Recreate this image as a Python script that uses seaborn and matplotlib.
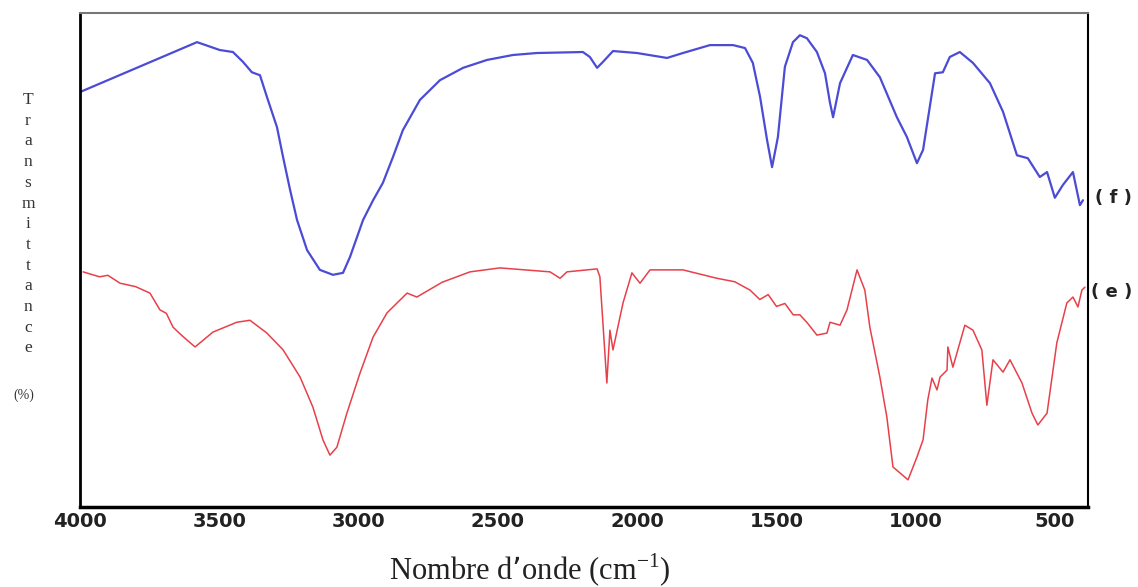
import numpy as np
import pandas as pd
import matplotlib
matplotlib.use("Agg")
import matplotlib.pyplot as plt
import seaborn as sns

##################################################################################################
# IR spectra (wavenumber in cm-1, transmittance in arbitrary %)
wn_f = [4000, 3580, 3498, 3451, 3415, 3383, 3354, 3329, 3293, 3271, 3246, 3221, 3185, 3139,
        3092, 3056, 3031, 2984, 2948, 2913, 2877, 2841, 2780, 2708, 2625, 2539, 2446, 2360,
        2195, 2170, 2144, 2123, 2087, 2001, 1893, 1836, 1739, 1656, 1613, 1585, 1559, 1534,
        1516, 1495, 1470, 1441, 1416, 1391, 1355, 1326, 1308, 1297, 1272, 1226, 1175, 1129,
        1068, 1032, 996, 974, 931, 903, 878, 842, 795, 734, 687, 637, 598, 555, 529, 501,
        472, 436, 411, 400]
t_f = [84.0, 94.1, 92.5, 92.1, 90.1, 88.0, 87.4, 83.0, 76.9, 70.8, 64.2, 58.1, 52.0, 48.0,
       47.0, 47.4, 50.6, 58.1, 62.1, 65.6, 70.8, 76.3, 82.4, 86.4, 88.9, 90.5, 91.5, 91.9,
       92.1, 91.1, 88.9, 90.1, 92.3, 91.9, 90.9, 91.9, 93.5, 93.5, 92.9, 89.9, 83.0, 74.3,
       68.8, 74.9, 89.1, 94.1, 95.5, 94.9, 92.1, 87.8, 81.8, 78.9, 85.8, 91.5, 90.5, 87.0,
       78.9, 74.9, 69.6, 72.3, 87.8, 88.0, 91.1, 92.1, 89.9, 85.8, 80.0, 71.2, 70.6, 66.8,
       67.8, 62.6, 65.2, 67.8, 61.1, 62.1]

wn_e = [3989, 3930, 3900, 3856, 3800, 3749, 3713, 3690, 3666, 3640, 3616, 3587, 3523, 3437,
        3390, 3329, 3271, 3210, 3164, 3128, 3103, 3078, 3042, 2995, 2948, 2898, 2826, 2791,
        2700, 2600, 2493, 2313, 2277, 2252, 2144, 2134, 2109, 2098, 2087, 2051, 2019, 1990,
        1954, 1836, 1714, 1650, 1595, 1560, 1530, 1500, 1470, 1440, 1416, 1390, 1355, 1319,
        1308, 1272, 1247, 1211, 1183, 1165, 1129, 1104, 1082, 1057, 1028, 996, 974, 957, 942,
        924, 913, 888, 885, 867, 824, 795, 763, 745, 723, 687, 662, 619, 583, 562, 529, 494,
        458, 436, 418, 404, 393]
t_e = [47.6, 46.6, 46.9, 45.3, 44.6, 43.3, 39.9, 39.2, 36.4, 35.0, 33.8, 32.4, 35.4, 37.4,
       37.8, 35.2, 31.8, 26.3, 20.2, 13.6, 10.5, 12.1, 19.0, 27.1, 34.4, 39.3, 43.3, 42.5,
       45.5, 47.6, 48.4, 47.6, 46.3, 47.6, 48.2, 46.6, 25.1, 35.8, 31.8, 41.3, 47.4, 45.3,
       48.0, 48.0, 46.3, 45.6, 43.9, 42.0, 43.0, 40.6, 41.2, 38.9, 38.9, 37.3, 34.8, 35.2,
       37.4, 36.8, 39.9, 48.0, 43.9, 36.4, 26.3, 18.2, 8.1, 6.9, 5.5, 10.1, 13.6, 21.7, 26.1,
       23.7, 26.3, 27.7, 32.4, 28.3, 36.8, 35.8, 31.8, 20.6, 29.8, 27.3, 29.8, 25.1, 19.0,
       16.6, 19.0, 33.2, 41.3, 42.5, 40.5, 43.9, 44.5]

tick_vals = [4000, 3500, 3000, 2500, 2000, 1500, 1000, 500]
ylab_letters = list("Transmittance")

df = pd.concat([
    pd.DataFrame({"wn": wn_f, "T": t_f, "sample": "f"}),
    pd.DataFrame({"wn": wn_e, "T": t_e, "sample": "e"}),
], ignore_index=True)

##################################################################################################
sns.set_style("white")
plt.rcParams['font.family'] = ['DejaVu Sans']

fig = plt.figure(figsize=(11.38, 5.87), dpi=100)
ax = fig.add_axes([80 / 1138, 80 / 587, 1008 / 1138, 494 / 587])

sns.lineplot(data=df[df["sample"] == "f"], x="wn", y="T", sort=False, color="#4b4bd6",
             linewidth=1.6, ax=ax, solid_joinstyle="round")
sns.lineplot(data=df[df["sample"] == "e"], x="wn", y="T", sort=False, color="#e8404a",
             linewidth=1.1, ax=ax, solid_joinstyle="round")

ax.set_xlim(4000, 382)
ax.set_ylim(0, 100)
ax.set_xlabel("")
ax.set_ylabel("")
ax.set_yticks([])
ax.set_xticks(tick_vals)
ax.set_xticklabels([str(v) for v in tick_vals], fontweight="bold", fontsize=14)
ax.set_xticks([3750, 3250, 2750, 2250, 1750, 1250, 750], minor=True)
ax.tick_params(axis="x", which="major", direction="inout", length=5, width=1.5, pad=1,
               colors="black", labelcolor="#222222")
ax.tick_params(axis="x", which="minor", direction="inout", length=3, width=1.5)

ax.spines["top"].set_color("#777777")
ax.spines["top"].set_linewidth(1.5)
ax.spines["left"].set_color("black")
ax.spines["left"].set_linewidth(2)
ax.spines["bottom"].set_color("black")
ax.spines["bottom"].set_linewidth(2.5)
ax.spines["right"].set_color("black")
ax.spines["right"].set_linewidth(1.5)

# curve labels on the right
fig.text(1095 / 1138, 1 - 198 / 587, "( f )", fontsize=13, fontweight="bold",
         va="center", ha="left", color="#222222")
fig.text(1091 / 1138, 1 - 292 / 587, "( e )", fontsize=13, fontweight="bold",
         va="center", ha="left", color="#222222")

# stacked y label
for i, ch in enumerate(ylab_letters):
    fig.text(28 / 1138, 1 - (100 + i * 20.7) / 587, ch, fontsize=12.5,
             family="Liberation Serif", ha="center", va="center", color="#333333")
fig.text(24 / 1138, 1 - 395 / 587, "(%)", fontsize=10, family="Liberation Serif",
         ha="center", va="center", color="#333333")

fig.text(530 / 1138, 1 - 570 / 587, "Nombre d\u2019onde (cm$^{\\mathregular{-1}}$)",
         fontsize=22, family="Liberation Serif", ha="center", va="center", color="#222222")

plt.savefig("out.png", dpi=100)
